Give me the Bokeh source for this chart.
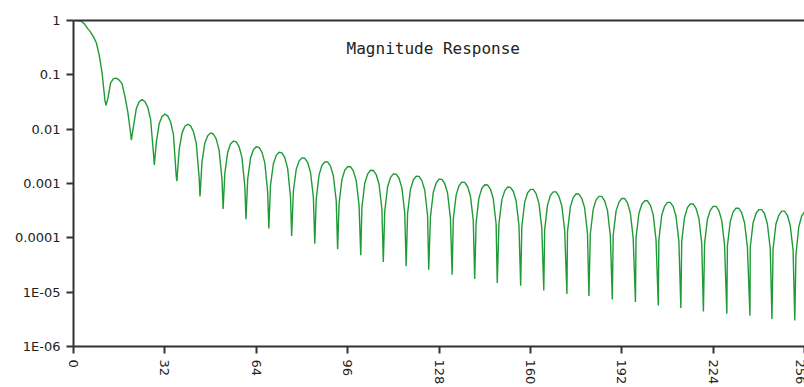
import math
from bokeh.plotting import figure
from bokeh.models import (ColumnDataSource, Range1d, FixedTicker, LinearAxis,
                          CustomJSTickFormatter, Label)
from bokeh.embed import file_html
from bokeh.resources import INLINE

# Magnitude of the response, one value per frequency bin 0..256
mag = [
    1.0, 1.0, 0.99, 0.95, 0.84, 0.71, 0.61, 0.50, 0.39, 0.23, 0.11,          # 0-10
    0.034, 0.036, 0.071, 0.085, 0.087, 0.080, 0.069, 0.040, 0.021, 0.0085,  # 11-20
    0.0113, 0.0239, 0.032, 0.0349, 0.0323, 0.0254, 0.0151, 0.0036,           # 21-28
    0.0057, 0.01257, 0.01714, 0.0189, 0.0176, 0.01368, 0.00795, 0.00134,     # 29-36
    0.00414, 0.00845, 0.01129, 0.01234, 0.01152, 0.00906, 0.00548, 0.00129,  # 37-44
    0.00249, 0.00554, 0.0076, 0.00852, 0.00814, 0.00654, 0.00408, 0.0012,    # 45-52
    0.00154, 0.00377, 0.00531, 0.00603, 0.00583, 0.00474, 0.00299, 0.00088,  # 53-60
    0.00119, 0.00294, 0.00418, 0.00474, 0.00461, 0.00377, 0.00239, 0.0007,   # 61-68
    0.00093, 0.00231, 0.00329, 0.00375, 0.00367, 0.003, 0.0019, 0.00056,     # 69-76
    0.00073, 0.00182, 0.0026, 0.00296, 0.00291, 0.00244, 0.00161, 0.00056,   # 77-84
    0.00051, 0.00144, 0.00214, 0.0025, 0.00249, 0.00209, 0.00139, 0.00049,   # 85-92
    0.00042, 0.00118, 0.00175, 0.00205, 0.00204, 0.00171, 0.00114, 0.0004,   # 93-100
    0.00036, 0.00101, 0.00149, 0.00175, 0.00174, 0.00146, 0.00097, 0.00034,  # 101-108
    0.00031, 0.00087, 0.00128, 0.0015, 0.00149, 0.00125, 0.00083, 0.00029,   # 109-116
    0.00028, 0.00078, 0.00116, 0.00136, 0.00135, 0.00113, 0.00076, 0.00026,  # 117-124
    0.00024, 0.00069, 0.00102, 0.0012, 0.00119, 0.001, 0.00067, 0.00023,     # 125-132
    0.00022, 0.00061, 0.00091, 0.00106, 0.00105, 0.00088, 0.00059, 0.00021,  # 133-140
    0.00019, 0.00055, 0.00081, 0.00095, 0.00094, 0.00079, 0.00053, 0.00018,  # 141-148
    0.00018, 0.0005, 0.00073, 0.00086, 0.00085, 0.00072, 0.00048, 0.00017,   # 149-156
    0.00016, 0.00045, 0.00067, 0.00078, 0.00078, 0.00065, 0.00043, 0.00015,  # 157-164
    0.00014, 0.0004, 0.0006, 0.0007, 0.0007, 0.00058, 0.00039, 0.00014,      # 165-172
    0.00013, 0.00037, 0.00055, 0.00064, 0.00064, 0.00053, 0.00036, 0.00012,  # 173-180
    0.00012, 0.00033, 0.0005, 0.00058, 0.00058, 0.00048, 0.00032, 0.00011,   # 181-188
    0.00011, 0.00031, 0.00045, 0.00053, 0.00053, 0.00044, 0.00029, 0.0001,   # 189-196
    0.0001, 0.00028, 0.00041, 0.00048, 0.00048, 0.0004, 0.00027, 0.000093,   # 197-204
    0.000092, 0.00026, 0.00038, 0.00045, 0.00045, 0.00038, 0.00025, 0.000087,  # 205-212
    0.000086, 0.00024, 0.00036, 0.00042, 0.00042, 0.00035, 0.00023, 0.000081,  # 213-220
    0.000078, 0.00022, 0.00032, 0.00038, 0.00038, 0.00032, 0.00021, 0.000074,  # 221-228
    0.000071, 0.0002, 0.0003, 0.00035, 0.00035, 0.00029, 0.00019, 0.000068,    # 229-236
    0.000067, 0.00019, 0.00028, 0.00033, 0.00033, 0.00028, 0.00018, 0.000064,  # 237-244
    0.000063, 0.00018, 0.00026, 0.00031, 0.00031, 0.00026, 0.00017, 0.00006,   # 245-252
    0.000048, 0.00016, 0.00025, 0.0003,                                        # 253-256
]
freq = list(range(len(mag)))

# Bottoms of the nulls between the lobes
null_freq = [11.4, 20.25, 28.3, 36.2, 44.3, 52.4, 60.4, 68.4, 76.4, 84.5,
             92.5, 100.6, 108.5, 116.5, 124.4, 132.6, 140.5, 148.4, 156.6,
             164.7, 172.8, 180.5, 188.7, 196.8, 204.8, 212.7, 220.6, 228.8,
             236.9, 244.6, 252.6]
null_mag = [0.0275, 0.0063, 0.0022, 0.0011, 0.00058, 0.00034, 0.00022,
            0.000148, 0.000108, 7.8e-5, 6.2e-5, 4.8e-5, 3.6e-5, 3.0e-5,
            2.6e-5, 2.1e-5, 1.74e-5, 1.48e-5, 1.32e-5, 1.07e-5, 9.3e-6,
            8.5e-6, 7.3e-6, 6.6e-6, 5.7e-6, 5.1e-6, 4.4e-6, 4.0e-6, 3.7e-6,
            3.2e-6, 3.0e-6]

x_ticks = [0, 32, 64, 96, 128, 160, 192, 224, 256]
y_ticks = [1e-6, 1e-5, 1e-4, 1e-3, 1e-2, 1e-1, 1]
y_tick_labels = ["1E-06", "1E-05", "0.0001", "0.001", "0.01", "0.1", "1"]
title_text = "Magnitude Response"

pts = sorted(zip(freq + null_freq, mag + null_mag))
src = ColumnDataSource(data=dict(f=[p[0] for p in pts], m=[p[1] for p in pts]))

AXIS = "#333333"
TEXT = "#222222"

p = figure(width=804, height=387, output_backend="svg", toolbar_location=None,
           y_axis_type="log", x_range=Range1d(0, 256), y_range=Range1d(1e-6, 1),
           min_border_left=73, min_border_right=0, min_border_top=20,
           min_border_bottom=39)
p.background_fill_color = "white"
p.border_fill_color = "white"
p.outline_line_color = None
p.xgrid.visible = False
p.ygrid.visible = False

p.line("f", "m", source=src, line_color="#1f9b36", line_width=1.4)

xa = p.xaxis[0]
xa.ticker = FixedTicker(ticks=x_ticks)
xa.major_label_orientation = "vertical"
ya = p.yaxis[0]
ya.ticker = FixedTicker(ticks=y_ticks)
ya.formatter = CustomJSTickFormatter(args=dict(labels=y_tick_labels), code="""
    const i = Math.round(Math.log10(tick)) + 6;
    return labels[i];
""")

for ax in (xa, ya):
    ax.axis_line_color = AXIS
    ax.axis_line_width = 2
    ax.major_tick_line_color = AXIS
    ax.major_tick_line_width = 2
    ax.major_tick_in = 0
    ax.major_tick_out = 7
    ax.minor_tick_line_color = None
    ax.major_label_standoff = 6
    ax.major_label_text_font = "DejaVu Sans"
    ax.major_label_text_font_size = "13px"
    ax.major_label_text_color = TEXT

# plain line along the top of the plot area
top = LinearAxis(ticker=FixedTicker(ticks=[]), axis_line_color=AXIS,
                 axis_line_width=2, major_tick_line_color=None,
                 minor_tick_line_color=None, major_label_text_font_size="0px")
p.add_layout(top, "above")

p.add_layout(Label(x=126, y=0.3, text=title_text, text_align="center",
                   text_baseline="middle", text_font="DejaVu Sans Mono",
                   text_font_size="16px", text_color=TEXT))

open("out.html", "w").write(file_html(p, INLINE))
